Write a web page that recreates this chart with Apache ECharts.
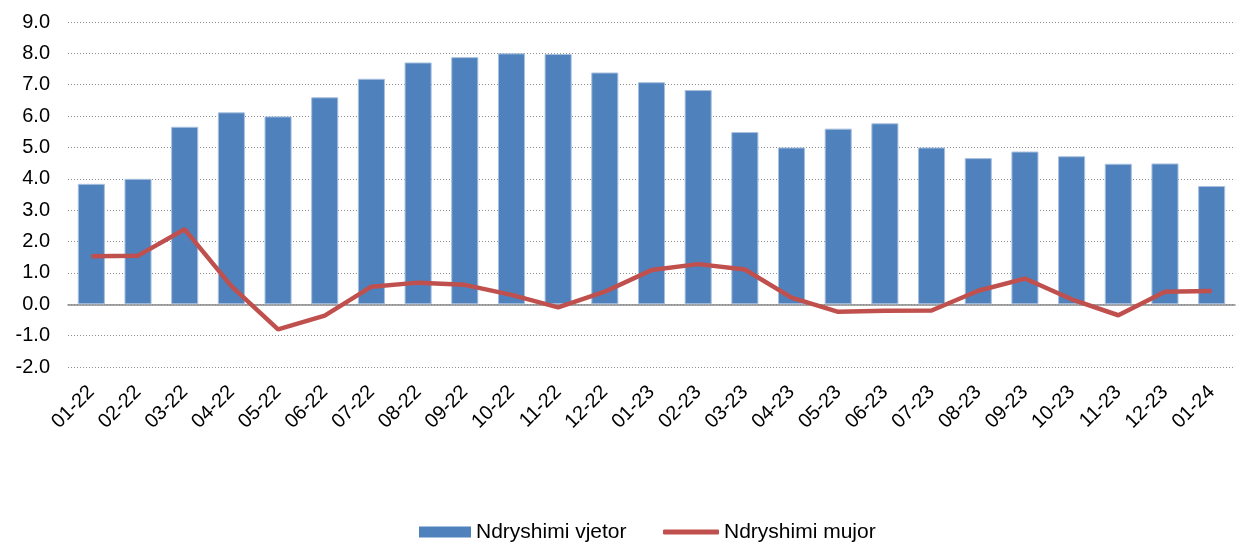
<!DOCTYPE html>
<html style="height: 100%">
<head>
  <meta charset="utf-8">
  <script type="text/javascript" src="https://cdn.jsdelivr.net/npm/echarts@6/dist/echarts.min.js"></script>
</head>
<body style="height: 100%; margin: 0; background: #fff">
  <div id="container" style="width: 1238px; height: 544px"></div>
  <script type="text/javascript">
    // muajt
    var months = ['01-22', '02-22', '03-22', '04-22', '05-22', '06-22', '07-22', '08-22', '09-22', '10-22',
      '11-22', '12-22', '01-23', '02-23', '03-23', '04-23', '05-23', '06-23', '07-23', '08-23',
      '09-23', '10-23', '11-23', '12-23', '01-24'];
    // Ndryshimi vjetor (%)
    var annual = [3.84, 4.0, 5.66, 6.12, 5.99, 6.6, 7.19, 7.71, 7.88, 8.0,
      7.98, 7.39, 7.08, 6.83, 5.49, 5.0, 5.6, 5.77, 5.0, 4.66,
      4.87, 4.72, 4.48, 4.49, 3.77];
    // Ndryshimi mujor (%)
    var monthly = [1.53, 1.55, 2.39, 0.58, -0.8, -0.36, 0.56, 0.69, 0.62, 0.3,
      -0.1, 0.4, 1.09, 1.28, 1.11, 0.21, -0.24, -0.21, -0.2, 0.43,
      0.82, 0.16, -0.35, 0.4, 0.42];

    var myChart = echarts.init(document.getElementById('container'));
    var font = 'Liberation Sans, Arial, sans-serif';
    var legendText = { fontSize: 21, color: '#000', fontFamily: font, lineHeight: 22 };

    var option = {
      animation: false,
      textStyle: { fontFamily: font },
      grid: { left: 68, right: 3, top: 22, bottom: 177, containLabel: false },
      // two legends so each icon can have its own shape/height
      legend: [{
        left: 414,
        top: 516,
        itemWidth: 52,
        itemHeight: 11,
        itemStyle: { borderWidth: 0 },
        textStyle: legendText,
        data: [{ name: 'Ndryshimi vjetor', icon: 'rect' }]
      }, {
        left: 658,
        top: 516,
        itemWidth: 56,
        itemHeight: 5,
        textStyle: legendText,
        data: [{ name: 'Ndryshimi mujor', icon: 'roundRect' }]
      }],
      xAxis: {
        type: 'category',
        data: months,
        axisLine: { show: true, onZero: true, lineStyle: { color: '#888', width: 1.5 } },
        axisTick: { show: false },
        axisLabel: {
          rotate: 45,
          interval: 0,
          color: '#000',
          fontSize: 20,
          margin: 22,
          fontFamily: font
        }
      },
      yAxis: {
        type: 'value',
        min: -2,
        max: 9,
        interval: 1,
        axisLine: { show: false },
        axisTick: { show: false },
        axisLabel: {
          color: '#000',
          fontSize: 20,
          margin: 18,
          fontFamily: font,
          formatter: function (v) { return v.toFixed(1); }
        },
        splitLine: { lineStyle: { color: '#8c8c8c', type: [1, 2], width: 1 } }
      },
      series: [
        {
          name: 'Ndryshimi vjetor',
          type: 'bar',
          data: annual,
          barWidth: '58%',
          itemStyle: { color: '#4F81BD', borderColor: '#a9c1df', borderWidth: 1 }
        },
        {
          name: 'Ndryshimi mujor',
          type: 'line',
          data: monthly,
          symbol: 'none',
          lineStyle: { color: '#C0504D', width: 4.5 },
          itemStyle: { color: '#C0504D' }
        }
      ]
    };

    myChart.setOption(option);
  </script>
</body>
</html>
